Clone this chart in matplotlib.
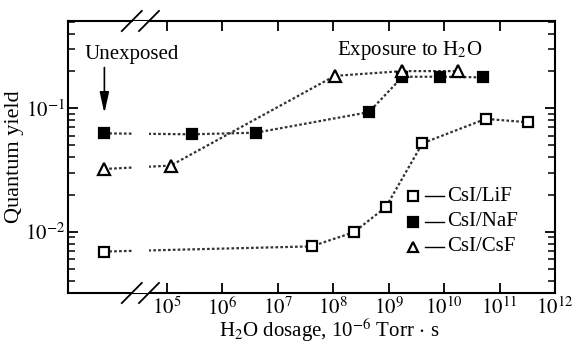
import matplotlib
matplotlib.use("Agg")
import matplotlib.pyplot as plt
import numpy as np

plt.rcParams['font.family'] = ['Liberation Serif', 'DejaVu Serif']
plt.rcParams['mathtext.fontset'] = 'stix'

# Data (H2O dosage in 1e-6 Torr*s, quantum yield); first point = unexposed
lif_x = [10**3.876, 10**7.61, 10**8.375, 10**8.95, 10**9.61, 10**10.75, 10**11.515]
lif_y = [0.0069, 0.0076, 0.0099, 0.0158, 0.052, 0.082, 0.077]
naf_x = [10**3.876, 10**5.45, 10**6.61, 10**8.645, 10**9.25, 10**9.92, 10**10.70]
naf_y = [0.0626, 0.0615, 0.0634, 0.093, 0.180, 0.180, 0.178]
csf_x = [10**3.876, 10**5.07, 10**8.03, 10**9.245, 10**10.25]
csf_y = [0.0322, 0.0343, 0.183, 0.200, 0.200]
labels = ["CsI/LiF", "CsI/NaF", "CsI/CsF"]
xticks = [1e5, 1e6, 1e7, 1e8, 1e9, 1e10, 1e11, 1e12]
xtick_labels = [r"$10^{%d}$" % k for k in range(5, 13)]

fig = plt.figure(figsize=(5.76, 3.44), dpi=100)
ax = fig.add_axes([68/576, 51/344, 487/576, 272/344])
ax.set_xscale('log')
ax.set_yscale('log')
ax.set_xlim(10**3.22, 1e12)
ax.set_ylim(10**-2.497, 10**-0.293)

lc = '#333333'
series = [(lif_x, lif_y, 's', 'white'), (naf_x, naf_y, 's', 'black'), (csf_x, csf_y, '^', 'white')]
for xs, ys, m, fc in series:
    ax.plot(xs, ys, ls=(0, (1.2, 1.0)), color=lc, lw=1.6, zorder=2)
    ax.plot(xs, ys, ls='none', marker=m, ms=7.5 if m == 's' else 8, mfc=fc, mec='black', mew=1.6, zorder=4)

# gap in the lines at the axis break
ax.axvspan(10**4.39, 10**4.68, color='white', zorder=3, lw=0)

ax.set_xticks(xticks)
ax.set_xticklabels(xtick_labels)
ax.xaxis.set_minor_locator(matplotlib.ticker.NullLocator())
ax.set_yticks([1e-2, 1e-1])
ax.set_yticklabels([r"$10^{-2}$", r"$10^{-1}$"])
ax.tick_params(axis='both', which='major', direction='in', length=7, width=1.3,
               top=True, right=True, labelsize=15)
ax.tick_params(axis='y', which='minor', direction='in', length=5, width=1.1, right=True, left=True)
ax.tick_params(axis='x', which='major', pad=3)
ax.tick_params(axis='y', which='major', pad=2)
ax.yaxis.set_minor_formatter(matplotlib.ticker.NullFormatter())
for s in ax.spines.values():
    s.set_linewidth(1.5)

# axis break marks on bottom and top spines
tr = ax.get_xaxis_transform()
for xc in [10**4.37, 10**4.68]:
    for yc in [0.0, 1.0]:
        ax.plot([xc / 10**0.18, xc * 10**0.18], [yc - 0.037, yc + 0.037], color='black',
                lw=1.3, transform=tr, clip_on=False, zorder=5)

ax.set_ylabel("Quantum yield", fontsize=16, labelpad=1)
fig.text(329/576, 7/344, r"H$_2$O dosage, 10$^{-6}$ Torr$\,\cdot\,$s", fontsize=15,
         ha='center', va='baseline')

ax.text(0.13, 0.875, "Unexposed", transform=ax.transAxes, fontsize=15, ha='center', va='center')
ax.annotate("", xy=(10**3.876, 10**-1.04), xytext=(10**3.876, 10**-0.67),
            arrowprops=dict(arrowstyle='-|>,head_length=0.9,head_width=0.2', color='black',
                            lw=1.2, mutation_scale=14, shrinkA=0, shrinkB=0))
ax.text(0.702, 0.893, r"Exposure to H$_2$O", transform=ax.transAxes, fontsize=15, ha='center', va='center')

# legend
markers = [('s', 'white'), ('s', 'black'), ('^', 'white')]
ys_leg = [0.355, 0.262, 0.17]
for (m, fc), yl, lab in zip(markers, ys_leg, labels):
    ax.plot([0.709], [yl], marker=m, ms=7, mfc=fc, mec='black', mew=1.6, transform=ax.transAxes, ls='none')
    ax.plot([0.733, 0.772], [yl, yl], color='black', lw=1.0, transform=ax.transAxes)
    ax.text(0.778, yl, lab, transform=ax.transAxes, fontsize=15, va='center', ha='left')

fig.savefig("out.png", dpi=100)
